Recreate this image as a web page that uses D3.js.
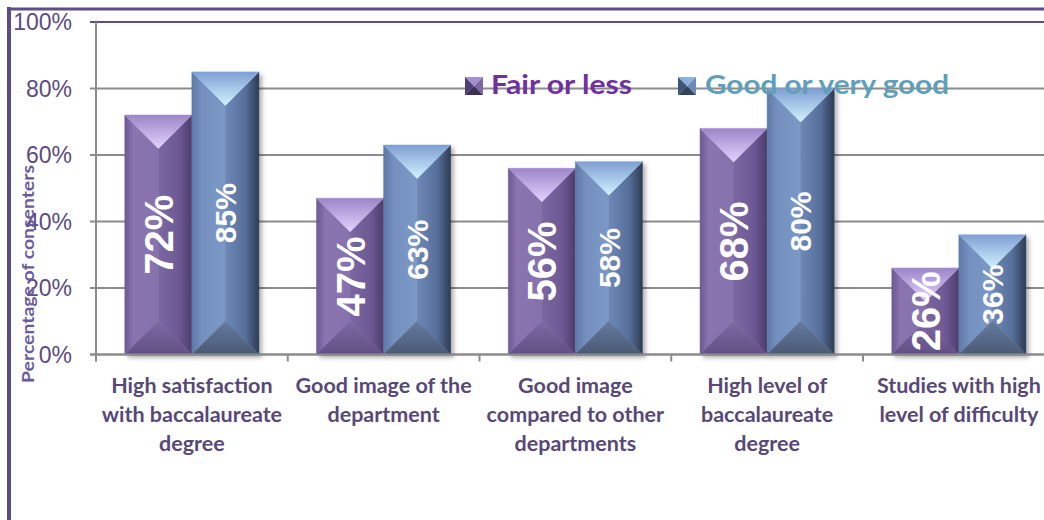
<!DOCTYPE html>
<html>
<head>
<meta charset="utf-8">
<script src="https://cdn.jsdelivr.net/npm/d3@7"></script>
<style>
  html, body { margin: 0; padding: 0; background: #fff; }
  svg { display: block; }
</style>
</head>
<body>
<svg id="chart" width="1044" height="520"></svg>
<script>
// ---- data ----
const categories = [
  ["High satisfaction", "with baccalaureate", "degree"],
  ["Good image of the", "department"],
  ["Good image", "compared to other", "departments"],
  ["High level of", "baccalaureate", "degree"],
  ["Studies with high", "level of difficulty"]
];
const seriesNames = ["Fair or less", "Good or very good"];
const fairValues = [72, 47, 56, 68, 26];
const goodValues = [85, 63, 58, 80, 36];
const yTicks = [0, 20, 40, 60, 80, 100];
const yTitle = "Percentage of consenters";

// ---- layout ----
const svg = d3.select("#chart");
const plotLeft = 96, plotRight = 1054.75, plotTop = 22, plotBottom = 354.5;
const purpleDark = "#5e4c84";

const x0 = d3.scaleBand().domain(d3.range(categories.length)).range([plotLeft, plotRight]).paddingInner(0).paddingOuter(0);
const x1 = d3.scaleBand().domain([0, 1]).range([0, x0.bandwidth()]).paddingInner(0).paddingOuter(0.43);
const y = d3.scaleLinear().domain([0, 100]).range([plotBottom, plotTop]);

const defs = svg.append("defs");
function lin(id, horiz, stops) {
  const g = defs.append("linearGradient").attr("id", id)
    .attr("x1", 0).attr("y1", 0).attr("x2", horiz ? 1 : 0).attr("y2", horiz ? 0 : 1);
  stops.forEach(s => g.append("stop").attr("offset", s[0]).attr("stop-color", s[1]));
}
const palettes = [
  { left: [["0", "#6c5892"], ["0.25", "#8a74b0"], ["1", "#8672ac"]],
    right: [["0", "#7b67a1"], ["0.6", "#6d5994"], ["1", "#4d3d6b"]],
    top: [["0", "#9d85c9"], ["1", "#e4d2fd"]],
    bottom: [["0", "#7d6aa3"], ["1", "#624f84"]] },
  { left: [["0", "#5f79a6"], ["0.3", "#7490bf"], ["1", "#7c98c7"]],
    right: [["0", "#6d88b7"], ["0.6", "#566f9a"], ["1", "#2e3b52"]],
    top: [["0", "#7f9ed3"], ["1", "#d0f3fe"]],
    bottom: [["0", "#657a9f"], ["1", "#4a5a75"]] }
];
palettes.forEach((p, i) => {
  lin(`l${i}`, true, p.left);
  lin(`r${i}`, true, p.right);
  lin(`t${i}`, false, p.top);
  lin(`b${i}`, false, p.bottom);
});
const shadow = defs.append("filter").attr("id", "shadow").attr("x", "-20%").attr("y", "-10%").attr("width", "150%").attr("height", "130%");
shadow.append("feDropShadow").attr("dx", 3).attr("dy", 3).attr("stdDeviation", 2).attr("flood-color", "#000").attr("flood-opacity", 0.3);

// ---- outer frame ----
svg.append("line").attr("x1", 7).attr("x2", 1044).attr("y1", 9).attr("y2", 9)
  .attr("stroke", purpleDark).attr("stroke-width", 3);
svg.append("line").attr("x1", 9).attr("x2", 9).attr("y1", 7).attr("y2", 520)
  .attr("stroke", purpleDark).attr("stroke-width", 4);

// ---- grid ----
const grid = svg.append("g");
yTicks.forEach(t => {
  grid.append("line").attr("x1", plotLeft - 6).attr("x2", 1044)
    .attr("y1", y(t)).attr("y2", y(t))
    .attr("stroke", t === 100 ? "#5e4c84" : "#8c8c8c").attr("stroke-width", 2);
});
// y axis line
grid.append("line").attr("x1", plotLeft).attr("x2", plotLeft).attr("y1", plotTop).attr("y2", plotBottom + 7)
  .attr("stroke", "#8c8c8c").attr("stroke-width", 2);
// category ticks
d3.range(categories.length + 1).forEach(i => {
  const xx = i < categories.length ? x0(i) : plotRight;
  grid.append("line").attr("x1", xx).attr("x2", xx).attr("y1", plotBottom).attr("y2", plotBottom + 7)
    .attr("stroke", "#8c8c8c").attr("stroke-width", 2);
});

// ---- y tick labels ----
svg.append("g").selectAll("text").data(yTicks).join("text")
  .attr("x", 72).attr("y", d => y(d)).attr("dy", "0.36em")
  .attr("text-anchor", "end")
  .attr("font-family", "'Liberation Sans', Arial, sans-serif").attr("font-size", 23)
  .attr("fill", "#5b4b7e").text(d => d + "%");

// ---- bars ----
const barsG = svg.append("g");
const series = [fairValues, goodValues];
categories.forEach((c, ci) => {
  series.forEach((vals, si) => {
    const v = vals[ci];
    const xa = x0(ci) + x1(si), w = x1.bandwidth();
    const xb = xa + w, xm = xa + w / 2;
    const ya = y(v), yb = y(0);
    const d = Math.min(w / 2, (yb - ya) / 2);
    const g = barsG.append("g").attr("filter", "url(#shadow)");
    const poly = (pts, fill) => g.append("polygon").attr("points", pts.map(p => p.join(",")).join(" ")).attr("fill", fill).attr("stroke", fill).attr("stroke-width", 0.5);
    poly([[xa, ya], [xm, ya + d], [xm, yb - d], [xa, yb]], `url(#l${si})`);
    poly([[xm, ya + d], [xb, ya], [xb, yb], [xm, yb - d]], `url(#r${si})`);
    poly([[xa, ya], [xb, ya], [xm, ya + d]], `url(#t${si})`);
    poly([[xa, yb], [xm, yb - d], [xb, yb]], `url(#b${si})`);
  });
});
// baseline on top of bar bottoms
svg.append("line").attr("x1", plotLeft - 6).attr("x2", 1044).attr("y1", plotBottom).attr("y2", plotBottom)
  .attr("stroke", "#8c8c8c").attr("stroke-width", 2);

// ---- value labels ----
const labG = svg.append("g");
categories.forEach((c, ci) => {
  series.forEach((vals, si) => {
    const v = vals[ci];
    const cx = x0(ci) + x1(si) + x1.bandwidth() / 2;
    const cy = (y(v) + y(0)) / 2;
    labG.append("text")
      .attr("transform", `translate(${cx},${cy}) rotate(-90)`)
      .attr("text-anchor", "middle").attr("dy", "0.36em")
      .attr("font-family", "'Liberation Sans', Arial, sans-serif").attr("font-weight", "bold")
      .attr("font-size", si === 0 ? 40 : 30)
      .attr("fill", "#fff").text(v + "%");
  });
});

// ---- category labels ----
const catG = svg.append("g");
categories.forEach((lines, ci) => {
  const t = catG.append("text")
    .attr("x", x0(ci) + x0.bandwidth() / 2).attr("y", 393)
    .attr("text-anchor", "middle")
    .attr("font-family", "Lato, 'Open Sans', sans-serif").attr("font-weight", "bold")
    .attr("font-size", 21.5).attr("fill", "#574878");
  lines.forEach((ln, li) => {
    t.append("tspan").attr("x", x0(ci) + x0.bandwidth() / 2).attr("dy", li === 0 ? 0 : 29).text(ln);
  });
});

// ---- y title ----
svg.append("text")
  .attr("transform", "translate(34,274) rotate(-90)")
  .attr("text-anchor", "middle")
  .attr("font-family", "Lato, 'Open Sans', sans-serif").attr("font-weight", "bold")
  .attr("font-size", 17).attr("fill", "#6a5a9e")
  .attr("textLength", 218).attr("lengthAdjust", "spacingAndGlyphs")
  .text(yTitle);

// ---- legend ----
const legendItems = [
  { name: seriesNames[0], mx: 465, tx: 491, tw: 141, color: "#7030a0",
    m: { top: "#a58fcf", left: "#4f3f70", right: "#7d68a4", bottom: "#3d3058" } },
  { name: seriesNames[1], mx: 678, tx: 705, tw: 244, color: "#5f9fba",
    m: { top: "#8fb0dd", left: "#3f5575", right: "#6d89b6", bottom: "#33445e" } }
];
const legG = svg.append("g");
legendItems.forEach(it => {
  const s = 18, mx = it.mx, my = 77;
  const cx = mx + s / 2, cy = my + s / 2;
  const tri = (pts, fill) => legG.append("polygon").attr("points", pts.map(p => p.join(",")).join(" ")).attr("fill", fill);
  tri([[mx, my], [mx + s, my], [cx, cy]], it.m.top);
  tri([[mx, my], [cx, cy], [mx, my + s]], it.m.left);
  tri([[mx + s, my], [mx + s, my + s], [cx, cy]], it.m.right);
  tri([[mx, my + s], [cx, cy], [mx + s, my + s]], it.m.bottom);
  legG.append("text").attr("x", it.tx).attr("y", 94)
    .attr("font-family", "Lato, 'Open Sans', sans-serif").attr("font-weight", "bold")
    .attr("font-size", 27).attr("fill", it.color)
    .attr("textLength", it.tw).attr("lengthAdjust", "spacingAndGlyphs")
    .text(it.name);
});
</script>
</body>
</html>
